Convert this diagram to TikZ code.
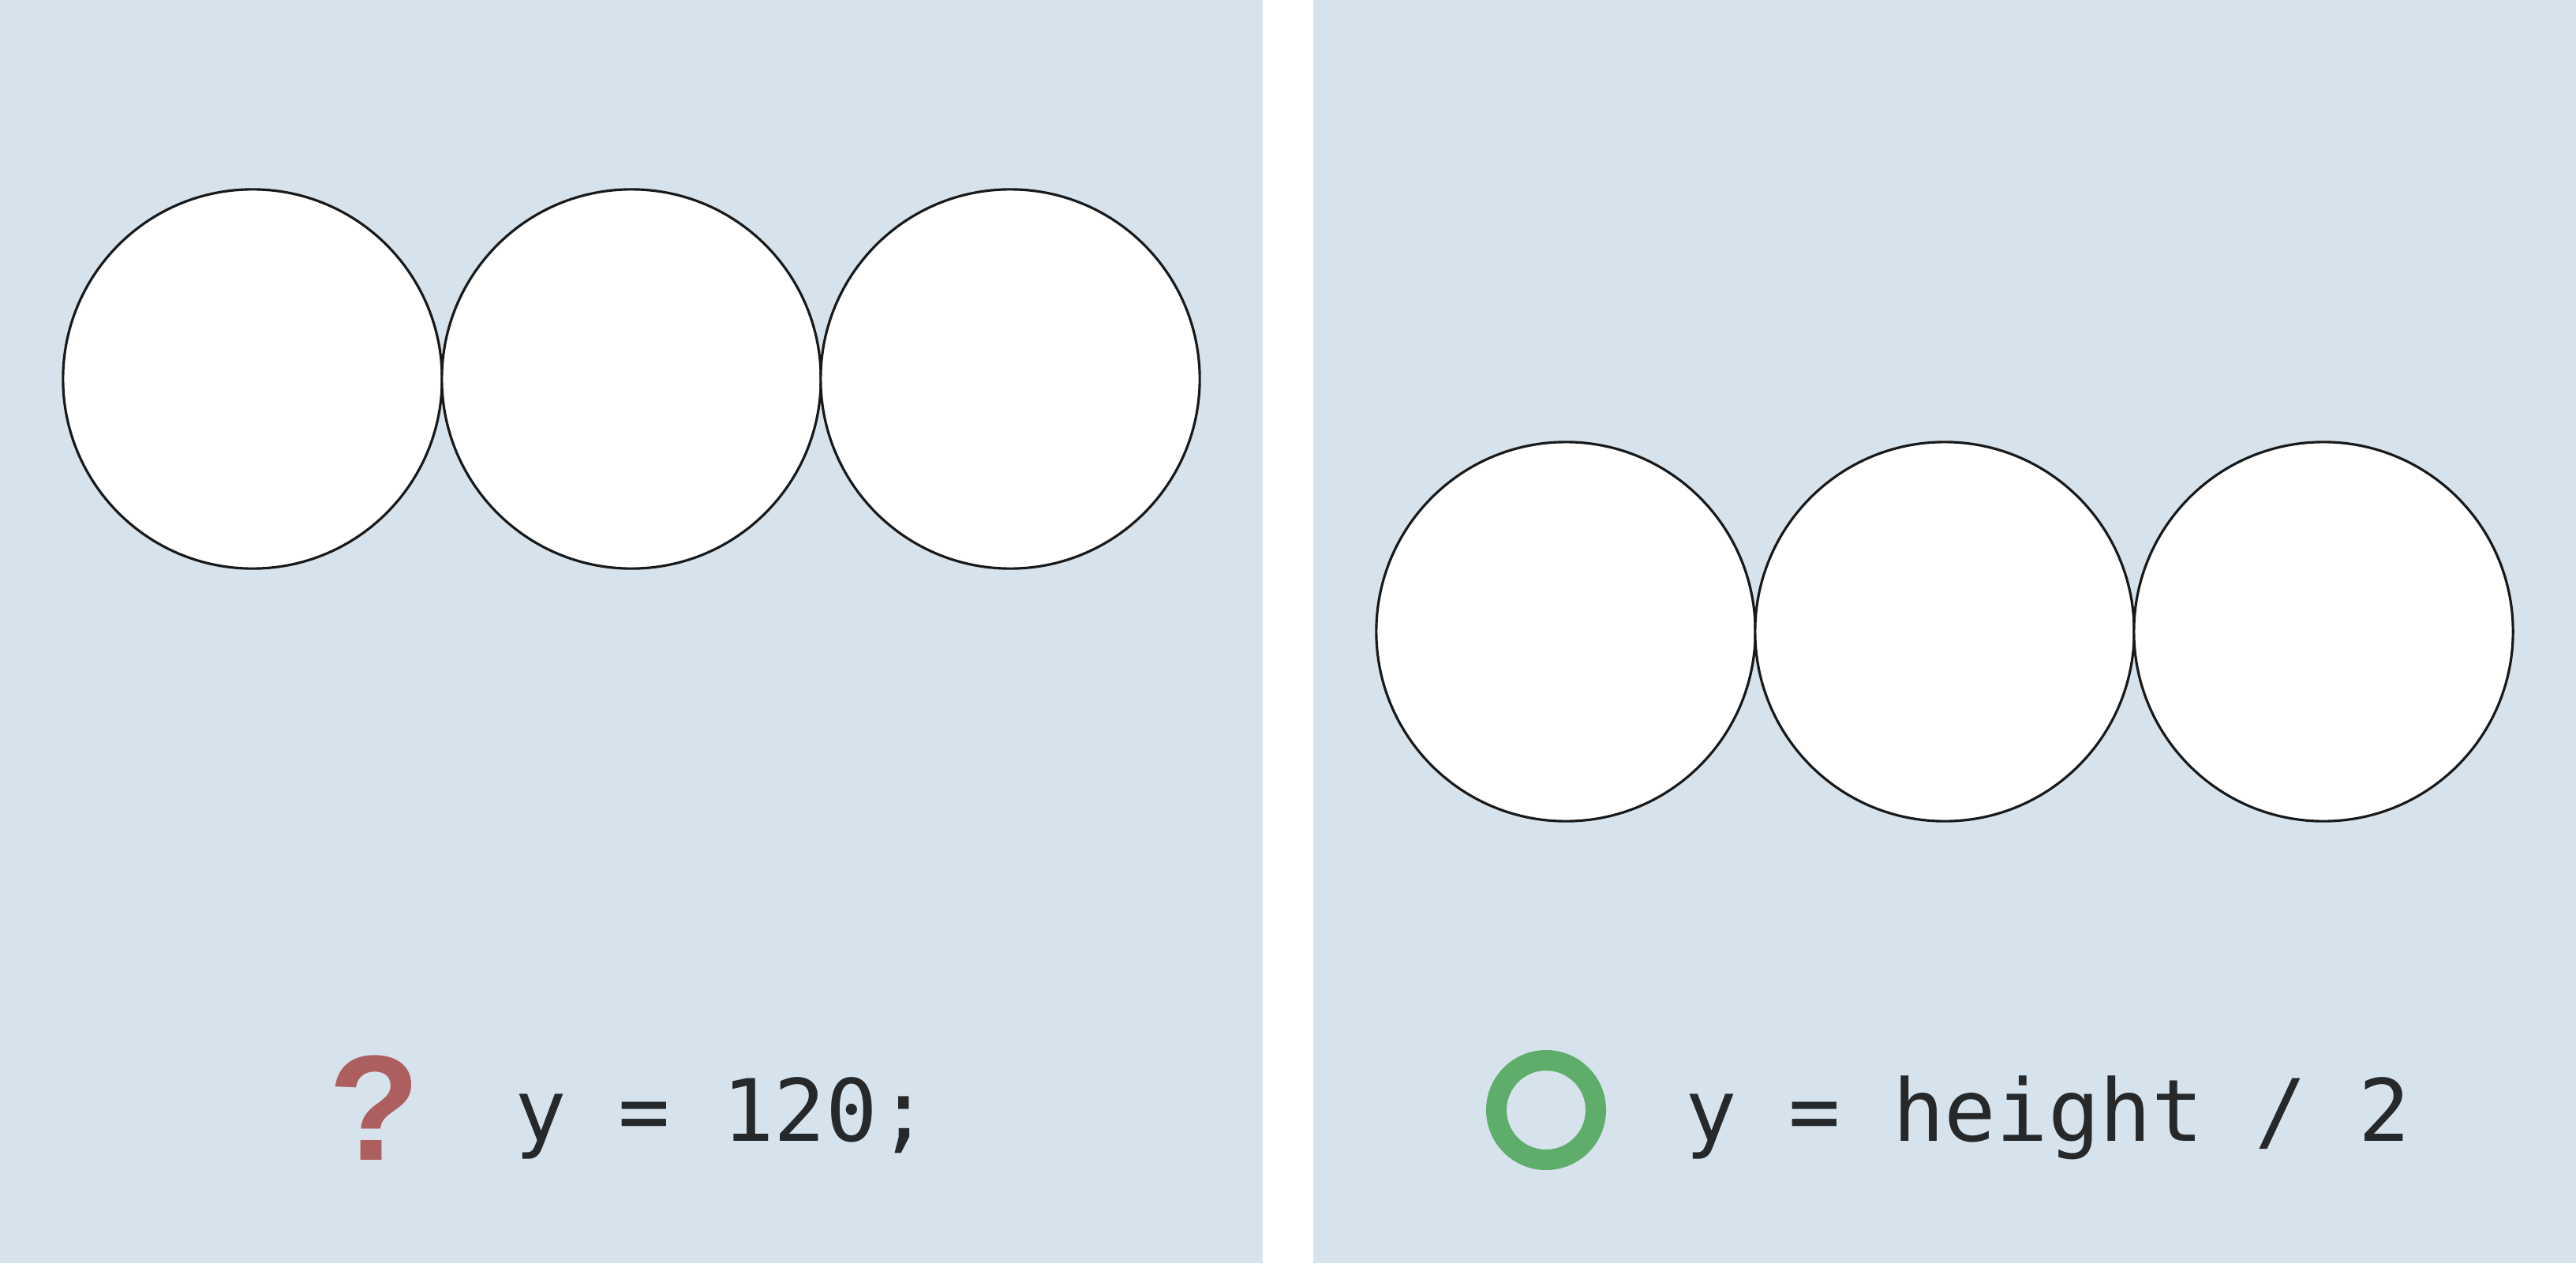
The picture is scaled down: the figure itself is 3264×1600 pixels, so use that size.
\documentclass[tikz,border=0pt]{standalone}
\usepackage{fontspec}
\newfontfamily\codefont{DejaVu Sans Mono}
\newfontfamily\markfont{Liberation Sans}
\definecolor{panelbg}{HTML}{D6E3ED}
\definecolor{codeink}{HTML}{26282A}
\definecolor{badred}{HTML}{AD5F5F}
\definecolor{goodgreen}{HTML}{5FAD6B}
\tikzset{
  panel/.style={fill=panelbg, draw=none},
  ball/.style={circle, draw=black!90, line width=0.9pt, fill=white, minimum size=4.8cm, inner sep=0pt},
  code/.style={font=\codefont\fontsize{31}{37}\selectfont, text=codeink, inner sep=0pt, anchor=base west},
}
\begin{document}
\begin{tikzpicture}[x=0.01cm, y=-0.01cm]
\useasboundingbox (0,0) rectangle (3264,1600);
\fill[white] (0,0) rectangle (3264,1600);
\path[panel] (0,0) rectangle (1600,1600);
\path[panel] (1664,0) rectangle (3264,1600);
% left panel circles
\node[ball] (l1) at (320,480) {};
\node[ball] (l2) at (800,480) {};
\node[ball] (l3) at (1280,480) {};
% right panel circles
\node[ball] (r1) at (1984,800) {};
\node[ball] (r2) at (2464,800) {};
\node[ball] (r3) at (2944,800) {};
% left caption
\node[font=\markfont\bfseries\fontsize{54}{60}\selectfont, text=badred, inner sep=0pt, anchor=base] (qmark) at (474,1469) {?};
\node[code] (lcode) at (652,1445) {y = 120;};
% right caption
\draw[goodgreen, line width=26*0.2845pt] (1959,1406) circle [radius=63];
\node[inner sep=0pt] (okmark) at (1959,1406) {};
\node[code] (rcode) at (2135,1445) {y = height / 2};
\end{tikzpicture}
\end{document}
